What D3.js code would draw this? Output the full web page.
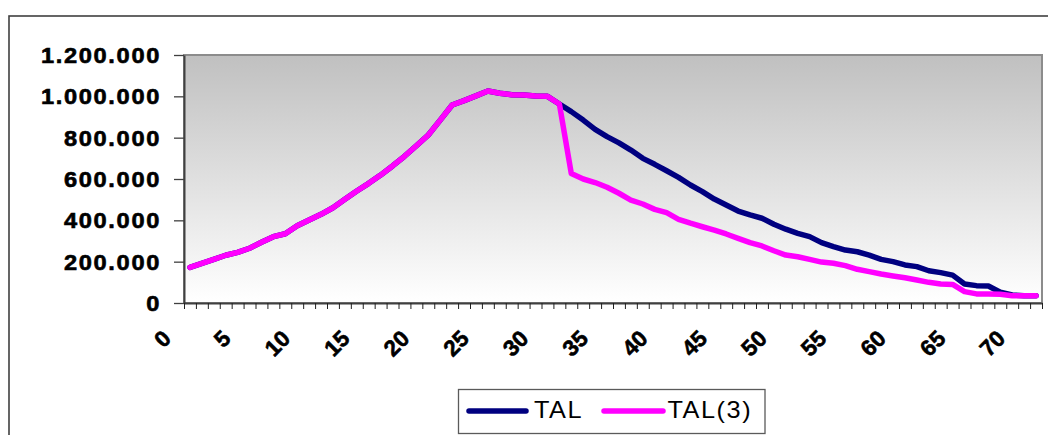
<!DOCTYPE html>
<html>
<head>
<meta charset="utf-8">
<script src="https://cdn.jsdelivr.net/npm/d3@7"></script>
<style>
  html, body { margin: 0; padding: 0; background: #ffffff; }
  svg { display: block; }
  text { font-family: "Liberation Sans", Arial, sans-serif; fill: #000; }
</style>
</head>
<body>
<svg id="chart" width="1048" height="435"></svg>
<script>
// Category labels along the x axis (one per point)
const categories = [
  0, 1, 2, 3, 4, 5, 6, 7, 8, 9, 10, 11, 12, 13, 14, 15, 16, 17,
  18, 19, 20, 21, 22, 23, 24, 25, 26, 27, 28, 29, 30, 31, 32, 33, 34, 35,
  36, 37, 38, 39, 40, 41, 42, 43, 44, 45, 46, 47, 48, 49, 50, 51, 52, 53,
  54, 55, 56, 57, 58, 59, 60, 61, 62, 63, 64, 65, 66, 67, 68, 69, 70, 71
];

// Series values
const TAL = [
  172000, 192000, 211000, 231000, 245000, 265000, 294000, 321000, 335000, 374000,
  402000, 429000, 461000, 502000, 542000, 579000, 619000, 663000, 710000, 761000,
  813000, 885000, 958000, 979000, 1002000, 1026000, 1015000, 1008000, 1006000, 1002000,
  1000000, 963000, 926000, 885000, 840000, 805000, 775000, 740000, 700000, 671000,
  640000, 608000, 571000, 539000, 503000, 474000, 445000, 426000, 410000, 381000,
  357000, 337000, 321000, 292000, 273000, 256000, 248000, 232000, 211000, 200000,
  184000, 176000, 156000, 147000, 135000, 92000, 84000, 82000, 52000, 39000,
  35000, 35000
];

const TAL3 = [
  172000, 192000, 211000, 231000, 245000, 265000, 294000, 321000, 335000, 374000,
  402000, 429000, 461000, 502000, 542000, 579000, 619000, 663000, 710000, 761000,
  813000, 885000, 958000, 979000, 1002000, 1026000, 1015000, 1008000, 1006000, 1002000,
  1000000, 963000, 627000, 600000, 583000, 560000, 531000, 498000, 479000, 453000,
  437000, 405000, 386000, 369000, 353000, 334000, 313000, 292000, 276000, 253000,
  232000, 224000, 211000, 198000, 192000, 181000, 163000, 152000, 140000, 131000,
  122000, 111000, 100000, 92000, 90000, 55000, 44000, 44000, 42000, 35000,
  35000, 35000
];

const seriesNames = ["TAL", "TAL(3)"];
const seriesColors = ["#000080", "#FF00FF"];

// Axis ticks
const yTicks = [0, 200000, 400000, 600000, 800000, 1000000, 1200000];
const xTickLabels = [0, 5, 10, 15, 20, 25, 30, 35, 40, 45, 50, 55, 60, 65, 70];

const svg = d3.select("#chart");

// Outer chart frame
svg.append("rect")
  .attr("x", 9).attr("y", 16)
  .attr("width", 1200).attr("height", 600)
  .attr("fill", "none")
  .attr("stroke", "#404040")
  .attr("stroke-width", 1.6);

const plot = { left: 184, right: 1042, top: 55, bottom: 303 };

const x = d3.scaleLinear()
  .domain([-0.5, categories.length - 0.5])
  .range([plot.left, plot.right]);

const y = d3.scaleLinear()
  .domain([0, 1200000])
  .range([plot.bottom, plot.top]);

// Plot area gradient (grey at top to white at bottom)
const defs = svg.append("defs");
const grad = defs.append("linearGradient")
  .attr("id", "plotBg")
  .attr("x1", 0).attr("y1", 0).attr("x2", 0).attr("y2", 1);
grad.append("stop").attr("offset", "0%").attr("stop-color", "#c0c0c0");
grad.append("stop").attr("offset", "100%").attr("stop-color", "#ffffff");

svg.append("rect")
  .attr("x", plot.left).attr("y", plot.top)
  .attr("width", plot.right - plot.left)
  .attr("height", plot.bottom - plot.top)
  .attr("fill", "url(#plotBg)")
  .attr("stroke", "#8c8c8c")
  .attr("stroke-width", 2);

// Y axis
const fmt = d => d3.format(",")(d).replace(/,/g, ".");
const yAxis = svg.append("g")
  .attr("transform", `translate(${plot.left},0)`)
  .call(d3.axisLeft(y).tickValues(yTicks).tickSize(10).tickSizeOuter(0).tickFormat(fmt));
yAxis.select(".domain").attr("stroke", "#404040").attr("stroke-width", 2);
yAxis.selectAll(".tick line").attr("stroke", "#404040").attr("stroke-width", 1.3);
yAxis.selectAll(".tick text")
  .attr("x", null).attr("dy", null)
  .attr("transform", "translate(-23,7.5) scale(1.1,1)")
  .style("font-size", "21.5px")
  .style("font-weight", "bold")
  .style("letter-spacing", "1.5px")
  .style("stroke", "#000")
  .style("stroke-width", "0.6px")
  .attr("text-anchor", "end");

// X axis: tick marks at category boundaries
const boundaries = categories.map(c => c - 0.5).concat([categories.length - 0.5]);
const xAxis = svg.append("g")
  .attr("transform", `translate(0,${plot.bottom})`)
  .call(d3.axisBottom(x).tickValues(boundaries).tickSize(6).tickSizeOuter(0).tickFormat(""));
xAxis.select(".domain").attr("stroke", "#404040").attr("stroke-width", 2);
xAxis.selectAll(".tick line").attr("stroke", "#202020").attr("stroke-width", 1);

// X axis labels, rotated
const xLabels = svg.append("g")
  .attr("transform", `translate(0,${plot.bottom})`)
  .call(d3.axisBottom(x).tickValues(xTickLabels).tickSize(0).tickFormat(d => String(d)));
xLabels.select(".domain").remove();
xLabels.selectAll(".tick text")
  .attr("y", null).attr("dy", null)
  .attr("text-anchor", "end")
  .attr("transform", "translate(-18,37) rotate(-45)")
  .style("font-size", "22.5px")
  .style("font-weight", "bold")
  .style("stroke", "#000")
  .style("stroke-width", "0.6px");

// Lines
const line = d3.line()
  .x((d, i) => x(categories[i]))
  .y(d => y(d));

[TAL, TAL3].forEach((vals, k) => {
  svg.append("path")
    .datum(vals)
    .attr("d", line)
    .attr("fill", "none")
    .attr("stroke", seriesColors[k])
    .attr("stroke-width", 5.5)
    .attr("stroke-linejoin", "round")
    .attr("stroke-linecap", "round");
});

// Legend
const legend = svg.append("g");
legend.append("rect")
  .attr("x", 458.5).attr("y", 389.5)
  .attr("width", 306.5).attr("height", 44)
  .attr("fill", "#ffffff")
  .attr("stroke", "#5a5a5a")
  .attr("stroke-width", 1.3);

const legendItems = [
  { x1: 469, x2: 526, tx: 534 },
  { x1: 604, x2: 663, tx: 667.5 }
];
legendItems.forEach((it, k) => {
  legend.append("line")
    .attr("x1", it.x1).attr("x2", it.x2)
    .attr("y1", 411).attr("y2", 411)
    .attr("stroke", seriesColors[k])
    .attr("stroke-width", 5.5)
    .attr("stroke-linecap", "round");
  legend.append("text")
    .attr("transform", `translate(${it.tx},417.5) scale(1.1,1)`)
    .style("font-size", "23px")
    .style("letter-spacing", "1.4px")
    .text(seriesNames[k]);
});
</script>
</body>
</html>
